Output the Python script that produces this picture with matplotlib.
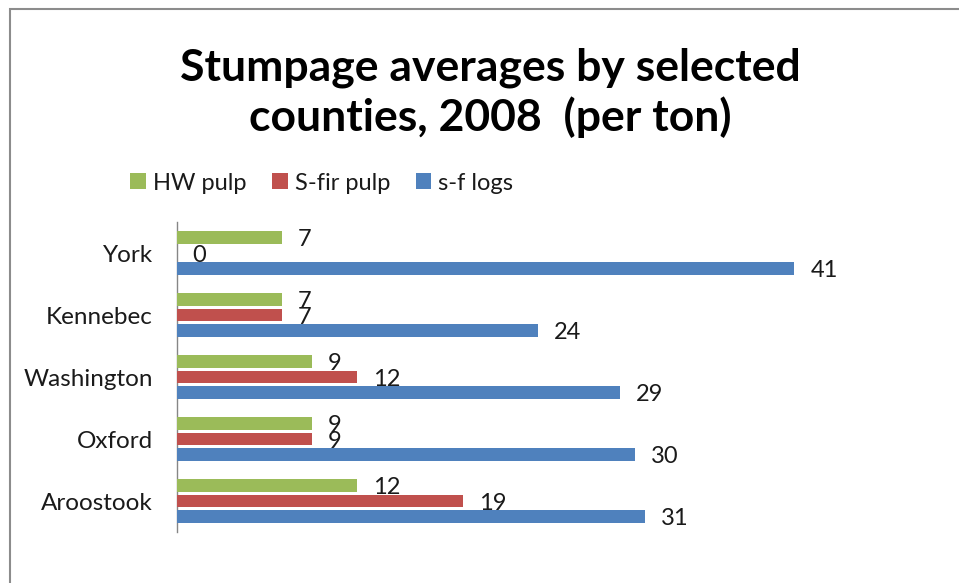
import matplotlib
matplotlib.use("Agg")
import matplotlib.pyplot as plt
from matplotlib.patches import Rectangle, Patch
import numpy as np

plt.rcParams['font.family'] = ['Lato', 'DejaVu Sans']

counties = ["Aroostook", "Oxford", "Washington", "Kennebec", "York"]
series_names = ["HW pulp", "S-fir pulp", "s-f logs"]
hw_pulp = [12, 9, 9, 7, 7]
sfir_pulp = [19, 9, 12, 7, 0]
sf_logs = [31.1, 30.4, 29.45, 24, 41]
colors = ["#9BBB59", "#C0504D", "#4F81BD"]

W, H = 959, 583
fig = plt.figure(figsize=(W / 100, H / 100), dpi=100)
fig.patch.set_facecolor("white")

# outer chart border (cropped on right/bottom)
fig.patches.append(Rectangle((10 / W, -0.1), 1.2, 1.1 - 9 / H, transform=fig.transFigure,
                             fill=False, edgecolor="#8C8C8C", linewidth=1.5))

ax_left, ax_right = 176.5, 854.6
ax_top, ax_bot = 222, 532
ax = fig.add_axes([ax_left / W, 1 - ax_bot / H, (ax_right - ax_left) / W, (ax_bot - ax_top) / H])

y = np.arange(len(counties))
slot = 0.25
bh = 0.205
series = [hw_pulp, sfir_pulp, sf_logs]
offsets = [slot, 0, -slot]
for vals, off, c, name in zip(series, offsets, colors, series_names):
    ax.barh(y + off, vals, height=bh, color=c, label=name, zorder=3)
    for yy, v in zip(y + off, vals):
        ax.annotate(f"{round(v):d}", xy=(v, yy), xytext=(11.5, -1.5), textcoords="offset points",
                    ha="left", va="center", fontsize=17, color="#1a1a1a", zorder=2)

ax.set_xlim(0, 45)
ax.set_ylim(-0.5, 4.5)
ax.set_yticks(y)
ax.set_yticklabels(counties, fontsize=17.5, color="#1a1a1a")
ax.tick_params(axis="y", length=0, pad=17)
ax.xaxis.set_visible(False)
for s in ["top", "right", "bottom"]:
    ax.spines[s].set_visible(False)
ax.spines["left"].set_color("#868686")
ax.spines["left"].set_linewidth(1.0)

handles = [Patch(facecolor=c, edgecolor="none") for c in colors]
fig.legend(handles, series_names, loc="center left", bbox_to_anchor=(109 / W, 1 - 183 / H),
           ncol=3, frameon=False, fontsize=17, handlelength=0.65, handleheight=0.65,
           handletextpad=0.3, columnspacing=1.1, labelcolor="#1a1a1a")

fig.text(490 / W, 1 - 93 / H, "Stumpage averages by selected\ncounties, 2008  (per ton)",
         ha="center", va="center", fontsize=32, fontweight="bold", linespacing=1.25)

fig.savefig("out.png", dpi=100)
